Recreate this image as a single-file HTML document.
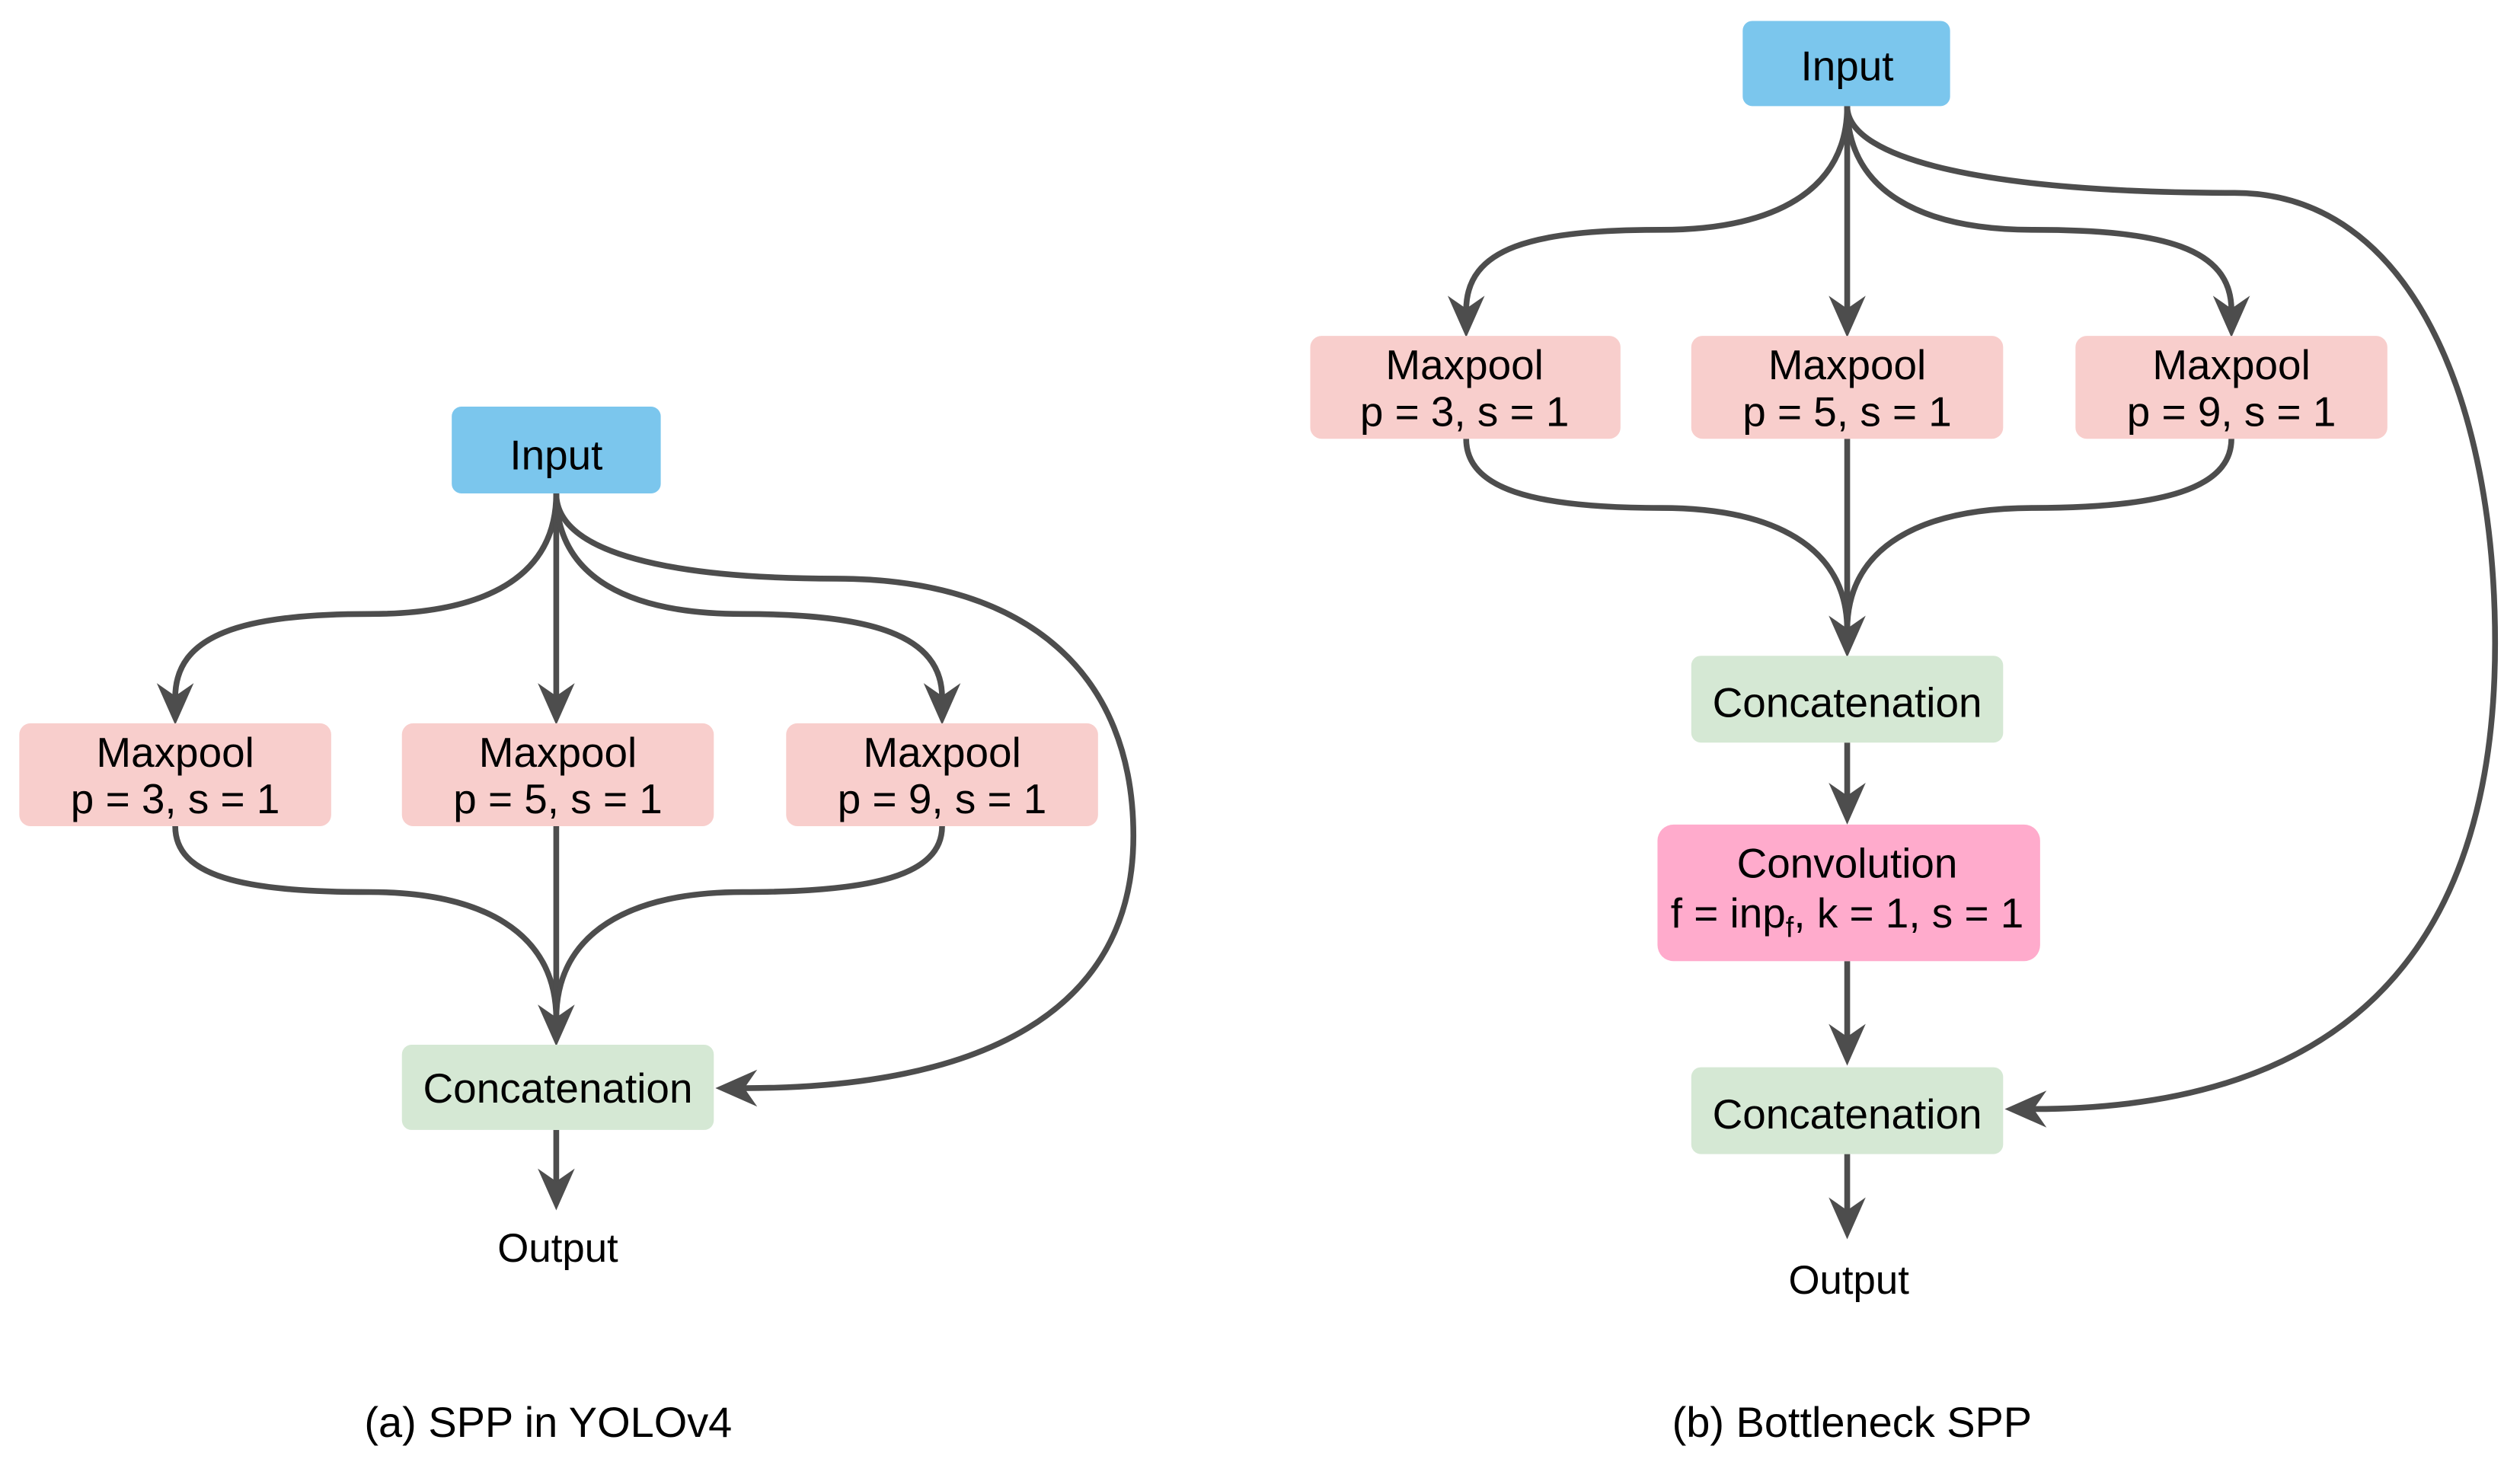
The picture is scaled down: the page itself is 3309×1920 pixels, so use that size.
<!DOCTYPE html>
<html><head><meta charset="utf-8"><style>
html,body{margin:0;padding:0;background:#fff;}
svg{display:block;}
text{font-family:"Liberation Sans",Arial,sans-serif;fill:#000;font-size:26px;text-anchor:middle;}
.c{font-size:25px;}
.cap{font-size:26.5px;}
</style></head><body>
<svg width="3309" height="1920" viewBox="0 0 1567.5 909.6" preserveAspectRatio="none" xmlns="http://www.w3.org/2000/svg">
<defs>
<g id="ad"><polygon points="0,0 -11.5,-26 0,-18 11.5,-26" fill="#4d4d4d"/></g>
</defs>
<g fill="none" stroke="#4d4d4d" stroke-width="3.6">
<path d="M346,307 C346,360 300,382 230,382 C150,382 109,395 109,434"/>
<path d="M346,307 L346,434"/>
<path d="M346,307 C346,360 392,382 462,382 C542,382 586,395 586,434"/>
<path d="M346,307 C346,345 420,360 520,360 C640,360 705,420 705,520 C705,630 610,677 463,677"/>
<path d="M109,514 C109,545 150,555 230,555 C300,555 346,580 346,634"/>
<path d="M346,514 L346,634"/>
<path d="M586,514 C586,545 542,555 462,555 C392,555 346,580 346,634"/>
<path d="M346,703 L346,736"/>
<path d="M1149,66 C1149,119 1103,143 1033,143 C953,143 912,154 912,193"/>
<path d="M1149,66 L1149,193"/>
<path d="M1149,66 C1149,119 1195,143 1265,143 C1345,143 1388,154 1388,193"/>
<path d="M1149,66 C1149,100 1240,120 1390,120 C1500,120 1552,250 1552,400 C1552,600 1450,690 1265,690"/>
<path d="M912,273 C912,304 953,316 1033,316 C1103,316 1149,340 1149,392"/>
<path d="M1149,273 L1149,392"/>
<path d="M1388,273 C1388,304 1345,316 1265,316 C1195,316 1149,340 1149,392"/>
<path d="M1149,462 L1149,496"/>
<path d="M1149,598 L1149,646"/>
<path d="M1149,718 L1149,754"/>
</g>
<g>
<use href="#ad" x="109" y="451"/><use href="#ad" x="346" y="451"/><use href="#ad" x="586" y="451"/>
<use href="#ad" x="346" y="651"/><use href="#ad" x="346" y="753"/>
<polygon points="445,677 471,665.5 463,677 471,688.5" fill="#4d4d4d"/>
<use href="#ad" x="912" y="210"/><use href="#ad" x="1149" y="210"/><use href="#ad" x="1388" y="210"/>
<use href="#ad" x="1149" y="409"/><use href="#ad" x="1149" y="513"/><use href="#ad" x="1149" y="663"/><use href="#ad" x="1149" y="771"/>
<polygon points="1247,690 1273,678.5 1265,690 1273,701.5" fill="#4d4d4d"/>
</g>
<rect x="281" y="253" width="130" height="54" rx="6" fill="#7bc6ed"/>
<text x="346" y="292">Input</text>
<rect x="12" y="450" width="194" height="64" rx="7" fill="#f8cecc"/>
<text x="109" y="477">Maxpool</text><text x="109" y="506">p = 3, s = 1</text>
<rect x="250" y="450" width="194" height="64" rx="7" fill="#f8cecc"/>
<text x="347" y="477">Maxpool</text><text x="347" y="506">p = 5, s = 1</text>
<rect x="489" y="450" width="194" height="64" rx="7" fill="#f8cecc"/>
<text x="586" y="477">Maxpool</text><text x="586" y="506">p = 9, s = 1</text>
<rect x="250" y="650" width="194" height="53" rx="6" fill="#d5e8d4"/>
<text x="347" y="686">Concatenation</text>
<text class="c" x="347" y="785">Output</text>
<text class="cap" x="341" y="894">(a) SPP in YOLOv4</text>
<rect x="1084" y="13" width="129" height="53" rx="6" fill="#7bc6ed"/>
<text x="1149" y="50">Input</text>
<rect x="815" y="209" width="193" height="64" rx="7" fill="#f8cecc"/>
<text x="911" y="236">Maxpool</text><text x="911" y="265">p = 3, s = 1</text>
<rect x="1052" y="209" width="194" height="64" rx="7" fill="#f8cecc"/>
<text x="1149" y="236">Maxpool</text><text x="1149" y="265">p = 5, s = 1</text>
<rect x="1291" y="209" width="194" height="64" rx="7" fill="#f8cecc"/>
<text x="1388" y="236">Maxpool</text><text x="1388" y="265">p = 9, s = 1</text>
<rect x="1052" y="408" width="194" height="54" rx="6" fill="#d5e8d4"/>
<text x="1149" y="446">Concatenation</text>
<rect x="1031" y="513" width="238" height="85" rx="10" fill="#ffabcc"/>
<text x="1149" y="546">Convolution</text>
<text x="1149" y="577">f = inp<tspan font-size="18" dy="6">f</tspan><tspan dy="-6">, k = 1, s = 1</tspan></text>
<rect x="1052" y="664" width="194" height="54" rx="6" fill="#d5e8d4"/>
<text x="1149" y="702">Concatenation</text>
<text class="c" x="1150" y="805">Output</text>
<text class="cap" x="1152" y="894">(b) Bottleneck SPP</text>
</svg>
</body></html>
